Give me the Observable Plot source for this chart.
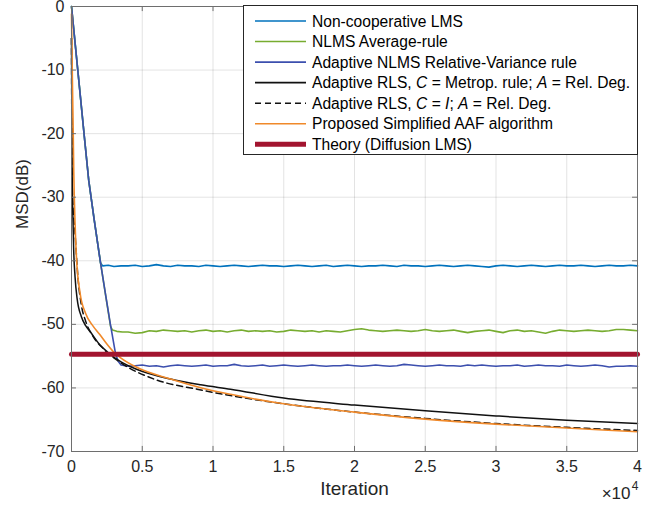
<!DOCTYPE html>
<html><head><meta charset="utf-8">
<script src="https://cdn.jsdelivr.net/npm/d3@7"></script>
<script src="https://cdn.jsdelivr.net/npm/@observablehq/plot@0.6"></script>
<style>
body{margin:0;background:#fff}
#wrap{position:relative;width:662px;height:510px;font-family:"Liberation Sans",Arial,sans-serif}
#legend{position:absolute;left:243px;top:5px}
</style>
</head><body><div id="wrap"></div>
<script>
// ---- axes ----
const xTicks = [0, 5000, 10000, 15000, 20000, 25000, 30000, 35000, 40000];
const yTicks = [0, -10, -20, -30, -40, -50, -60, -70];

// ---- series names & colours ----
const names = [
  "Non-cooperative LMS",
  "NLMS Average-rule",
  "Adaptive NLMS Relative-Variance rule",
  "Adaptive RLS, C = Metrop. rule; A = Rel. Deg.",
  "Adaptive RLS, C = I; A = Rel. Deg.",
  "Proposed Simplified AAF algorithm",
  "Theory (Diffusion LMS)"
];
const colors = ["#0072BD", "#77AC30", "#3C4FAE", "#111111", "#111111", "#F0892A", "#A2142F"];

// ---- transient parts (iteration, MSD dB) ----
const lmsIter = [0, 470, 940, 1220, 1600, 2050, 2200, 2600, 3000, 3500];
const lmsMSD  = [0, -10.6, -21.2, -27.4, -33.5, -40.3, -40.8, -40.7, -40.9, -40.8];

const avgIter = [0, 470, 940, 1220, 1600, 2050, 2400, 2760, 2900, 3200, 3600];
const avgMSD  = [0, -10.6, -21.2, -27.4, -33.5, -40.3, -45.3, -50.3, -50.9, -51.1, -51.2];

const rvIter = [0, 470, 940, 1220, 1600, 2050, 2400, 2750, 3110, 3300, 3500];
const rvMSD  = [0, -10.6, -21.2, -27.4, -33.5, -40.3, -45.2, -50.0, -54.6, -55.8, -56.4];

// flat (steady-state) parts, one value every 500 iterations from 4000 to 40000
const lmsFlat = [
  -40.8,-40.7,-40.9,-40.8,-40.6,-40.8,-40.9,-40.7,-40.8,-40.8,
  -40.9,-40.7,-40.8,-40.9,-40.8,-40.7,-40.8,-40.9,-40.8,-40.7,
  -40.8,-40.8,-40.9,-40.8,-40.7,-40.8,-40.9,-40.8,-40.7,-40.9,
  -40.8,-40.7,-40.8,-40.9,-40.8,-40.8,-40.7,-40.8,-40.9,-40.7,
  -40.8,-40.8,-40.9,-40.8,-40.7,-40.8,-40.9,-40.8,-40.7,-40.8,
  -40.9,-41.0,-40.8,-40.7,-40.8,-40.9,-40.8,-40.7,-40.8,-40.9,
  -40.8,-40.7,-40.8,-40.8,-40.7,-40.8,-40.9,-40.8,-40.7,-40.8,
  -40.8,-40.7,-40.8];
const avgFlat = [
  -51.2,-51.4,-51.3,-51.0,-51.1,-50.9,-51.0,-51.1,-51.0,-51.2,
  -51.0,-50.9,-51.1,-51.0,-51.2,-51.0,-50.9,-51.1,-51.0,-51.1,
  -51.0,-51.2,-51.1,-50.9,-51.0,-51.1,-51.0,-51.2,-51.0,-51.1,
  -51.2,-51.0,-50.8,-50.7,-50.9,-51.0,-51.1,-51.0,-50.9,-51.0,
  -51.1,-51.0,-50.8,-51.0,-51.1,-51.0,-50.9,-51.1,-51.3,-51.1,
  -51.0,-50.9,-51.1,-51.3,-51.0,-50.9,-51.1,-51.0,-51.2,-51.4,
  -51.1,-50.9,-51.0,-51.1,-51.0,-50.9,-51.0,-51.1,-51.0,-50.8,
  -50.8,-50.9,-51.0];
const rvFlat = [
  -56.6,-56.5,-56.4,-56.6,-56.5,-56.7,-56.5,-56.4,-56.5,-56.6,
  -56.5,-56.4,-56.6,-56.5,-56.5,-56.3,-56.5,-56.6,-56.5,-56.4,
  -56.6,-56.5,-56.4,-56.5,-56.6,-56.5,-56.4,-56.5,-56.6,-56.5,
  -56.5,-56.4,-56.5,-56.6,-56.5,-56.4,-56.5,-56.6,-56.5,-56.3,
  -56.4,-56.5,-56.6,-56.5,-56.4,-56.5,-56.5,-56.6,-56.4,-56.5,
  -56.4,-56.5,-56.6,-56.5,-56.5,-56.4,-56.6,-56.5,-56.4,-56.5,
  -56.5,-56.6,-56.4,-56.5,-56.6,-56.5,-56.4,-56.5,-56.7,-56.6,
  -56.6,-56.5,-56.6];
const flatStart = 4000, flatStep = 500;

const rlsIter = [0, 40, 100, 150, 250, 400, 700, 1000, 1340, 2000, 2520, 3500, 4640, 7000, 9130, 11240, 15000, 20000, 25000, 30000, 35000, 40000];
const rlsMSD  = [-5, -25, -33, -38, -42.5, -46, -48.8, -50.2, -51.2, -53.2, -54.3, -55.9, -57.1, -58.6, -59.5, -60.2, -61.6, -62.7, -63.6, -64.4, -65.1, -65.6];

const rlsIIter = [0, 40, 100, 230, 470, 700, 1000, 1500, 2280, 3460, 5820, 8880, 11240, 15000, 20000, 25000, 30000, 35000, 40000];
const rlsIMSD  = [-5, -26, -31, -35, -43, -47, -49.5, -51.8, -53.9, -56.0, -58.6, -60.2, -61.2, -62.5, -63.8, -64.8, -65.6, -66.2, -66.7];

const aafIter = [0, 40, 80, 120, 160, 250, 350, 600, 1000, 1500, 2000, 2500, 3000, 3500, 4640, 7000, 9200, 11240, 15000, 20000, 25000, 30000, 35000, 40000];
const aafMSD  = [-1.2, -8, -14, -19.6, -26, -34, -39.5, -45, -48.3, -50.2, -51.6, -53.1, -54.4, -55.3, -56.8, -58.6, -60.0, -61.0, -62.5, -63.8, -64.9, -65.7, -66.3, -66.9];

const theoryIter = [0, 40000];
const theoryMSD  = [-54.7, -54.7];

// ---- build rows ----
function rows(iters, vals, flat) {
  const r = iters.map((x, i) => ({x, y: vals[i]}));
  if (flat) flat.forEach((v, i) => r.push({x: flatStart + i * flatStep, y: v}));
  return r;
}
const dLMS = rows(lmsIter, lmsMSD, lmsFlat);
const dAvg = rows(avgIter, avgMSD, avgFlat);
const dRV = rows(rvIter, rvMSD, rvFlat);
const dRLS = rows(rlsIter, rlsMSD);
const dRLSI = rows(rlsIIter, rlsIMSD);
const dAAF = rows(aafIter, aafMSD);
const dTh = rows(theoryIter, theoryMSD);

const axisCol = "#6e6e6e";
const textCol = "#262626";
const font = "'Liberation Sans', Arial, Helvetica, sans-serif";

const chart = Plot.plot({
  width: 662, height: 510,
  marginTop: 6, marginRight: 25, marginBottom: 59, marginLeft: 71,
  x: {domain: [0, 40000]},
  y: {domain: [-70, 0]},
  style: {fontFamily: font, color: textCol, background: "#fff"},
  marks: [
    Plot.gridX(xTicks, {stroke: "#000", strokeOpacity: 0.11}),
    Plot.gridY(yTicks, {stroke: "#000", strokeOpacity: 0.11}),
    Plot.axisX(xTicks, {tickSize: 0, tickPadding: 9, fontSize: 16, tickFormat: d => String(d / 1e4), label: null, fill: textCol}),
    Plot.axisY(yTicks, {tickSize: 0, tickPadding: 7, fontSize: 16, tickFormat: d => String(d), label: null, fill: textCol}),
    Plot.line(dLMS, {x: "x", y: "y", stroke: colors[0], strokeWidth: 1.6}),
    Plot.line(dAvg, {x: "x", y: "y", stroke: colors[1], strokeWidth: 1.6}),
    Plot.line(dRV, {x: "x", y: "y", stroke: colors[2], strokeWidth: 1.6}),
    Plot.line(dRLS, {x: "x", y: "y", stroke: colors[3], strokeWidth: 1.5, curve: "monotone-x"}),
    Plot.line(dRLSI, {x: "x", y: "y", stroke: colors[4], strokeWidth: 1.5, strokeDasharray: "6,4", curve: "monotone-x"}),
    Plot.line(dAAF, {x: "x", y: "y", stroke: colors[5], strokeWidth: 1.6, curve: "monotone-x"}),
    Plot.line(dTh, {x: "x", y: "y", stroke: colors[6], strokeWidth: 5}),
    // inward ticks
    Plot.ruleX(xTicks, {y1: -70, y2: -69.2, stroke: axisCol}),
    Plot.ruleX(xTicks, {y1: 0, y2: -0.8, stroke: axisCol}),
    Plot.ruleY(yTicks, {x1: 0, x2: 350, stroke: axisCol}),
    Plot.ruleY(yTicks, {x1: 39650, x2: 40000, stroke: axisCol}),
    Plot.frame({stroke: axisCol, strokeWidth: 1}),
    Plot.text(["MSD(dB)"], {frameAnchor: "left", dx: -49, rotate: -90, fontSize: 17, fill: textCol}),
    Plot.text(["Iteration"], {frameAnchor: "bottom", dy: 43, fontSize: 19, fill: textCol}),
    Plot.text(["\u00d710"], {frameAnchor: "bottom-right", dx: -7, dy: 47, textAnchor: "end", fontSize: 17, fill: textCol}),
    Plot.text(["4"], {frameAnchor: "bottom-right", dx: 1, dy: 38, textAnchor: "end", fontSize: 12, fill: textCol})
  ]
});
document.getElementById("wrap").appendChild(chart);

// ---- legend ----
const lg = d3.select("#wrap").append("svg").attr("id", "legend")
  .attr("width", 396).attr("height", 151)
  .style("font-family", font);
lg.append("rect").attr("x", 0.5).attr("y", 0.5).attr("width", 394).attr("height", 149)
  .attr("fill", "#fff").attr("stroke", "#262626").attr("stroke-width", 1);
const rowY = i => 16 + i * 20.55;
const labelParts = [
  [["Non-cooperative LMS", false]],
  [["NLMS Average-rule", false]],
  [["Adaptive NLMS Relative-Variance rule", false]],
  [["Adaptive RLS, ", false], ["C", true], [" = Metrop. rule; ", false], ["A", true], [" = Rel. Deg.", false]],
  [["Adaptive RLS, ", false], ["C", true], [" = ", false], ["I", true], ["; ", false], ["A", true], [" = Rel. Deg.", false]],
  [["Proposed Simplified AAF algorithm", false]],
  [["Theory (Diffusion LMS)", false]]
];
names.forEach((n, i) => {
  const y = rowY(i);
  lg.append("line").attr("x1", 12).attr("x2", 63).attr("y1", y).attr("y2", y)
    .attr("stroke", colors[i])
    .attr("stroke-width", i === 6 ? 5 : 1.6)
    .attr("stroke-dasharray", i === 4 ? "6,4" : null);
  const t = lg.append("text").attr("x", 69).attr("y", y).attr("dy", "0.36em")
    .attr("font-size", 15.6).attr("fill", "#000");
  labelParts[i].forEach(([s, it]) => {
    t.append("tspan").text(s).attr("font-style", it ? "italic" : null);
  });
});
</script></body></html>
